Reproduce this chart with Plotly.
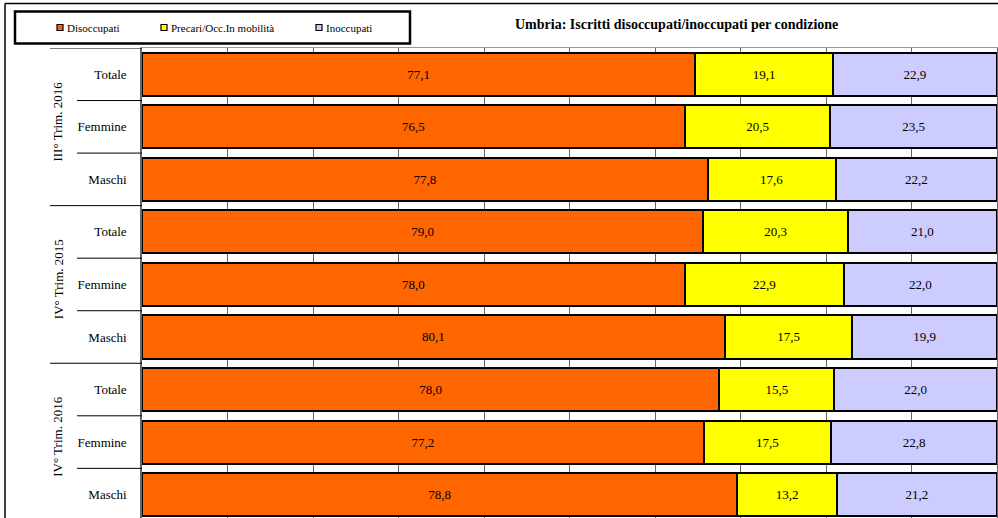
import plotly.graph_objects as go

groups = ["III° Trim. 2016", "IV° Trim. 2015", "IV° Trim. 2016"]
subs = ["Totale", "Femmine", "Maschi"]
series_names = ["Disoccupati", "Precari/Occ.In mobilità", "Inoccupati"]
colors = ["#FF6600", "#FFFF00", "#CCCCFF"]

disoccupati = [77.1, 76.5, 77.8, 79.0, 78.0, 80.1, 78.0, 77.2, 78.8]
precari = [19.1, 20.5, 17.6, 20.3, 22.9, 17.5, 15.5, 17.5, 13.2]
inoccupati = [22.9, 23.5, 22.2, 21.0, 22.0, 19.9, 22.0, 22.8, 21.2]

title = "Umbria: Iscritti disoccupati/inoccupati per condizione"

W, H = 998, 518
L, R, T = 142, 1, 47.5
PW = W - L - R
PH = H - T
SERIF = "Liberation Serif, Times New Roman, serif"

row_labels = [s for g in groups for s in subs]
ypos = list(range(len(row_labels)))

fig = go.Figure()
for name, vals, col in zip(series_names, [disoccupati, precari, inoccupati], colors):
    fig.add_trace(go.Bar(
        y=ypos, x=vals, orientation="h", name=name,
        marker=dict(color=col, line=dict(color="black", width=2)),
        text=[f"{v:.1f}".replace(".", ",") for v in vals],
        textposition="inside", insidetextanchor="middle", textangle=0,
        textfont=dict(family=SERIF, size=13, color="black"),
        showlegend=False,
    ))

fig.update_layout(
    width=W, height=H,
    margin=dict(l=L, r=R, t=T, b=0, pad=0),
    barmode="stack", barnorm="percent", bargap=0.18,
    paper_bgcolor="white", plot_bgcolor="white",
    font=dict(family=SERIF, color="black"),
)
fig.update_xaxes(range=[0, 100], dtick=10, showgrid=True, gridcolor="#666666", gridwidth=1,
                 showticklabels=False, zeroline=False, side="top",
                 showline=True, linecolor="#999999", linewidth=1)
fig.update_yaxes(range=[8.445, -0.5], tickvals=ypos, ticktext=row_labels,
                 tickfont=dict(family=SERIF, size=13, color="black"),
                 ticks="", ticklabelstandoff=11, showgrid=False, zeroline=False,
                 showline=True, mirror=True, linecolor="#666666", linewidth=1.5)

def px(xp):
    return (xp - L) / PW

def py(yp):
    return 1 - (yp - T) / PH

shapes = []
# category dividers in label area
for b in [-0.5, 2.5, 5.5, 8.5]:
    shapes.append(dict(type="line", xref="paper", yref="y", x0=px(50), x1=px(142), y0=b, y1=b,
                       line=dict(color="black", width=1)))
for b in [0.5, 1.5, 3.5, 4.5, 6.5, 7.5]:
    shapes.append(dict(type="line", xref="paper", yref="y", x0=px(77), x1=px(142), y0=b, y1=b,
                       line=dict(color="black", width=1)))
# outer frame
shapes.append(dict(type="line", xref="paper", yref="paper", x0=px(5), x1=px(998), y0=py(3), y1=py(3),
                   line=dict(color="black", width=1.5)))
shapes.append(dict(type="line", xref="paper", yref="paper", x0=px(5), x1=px(5), y0=py(3), y1=py(520),
                   line=dict(color="black", width=1.5)))
# legend box
shapes.append(dict(type="rect", xref="paper", yref="paper", x0=px(15), x1=px(410), y0=py(11), y1=py(43),
                   line=dict(color="black", width=2.5), fillcolor="white"))

annotations = []
leg_x = [57, 161, 316]
for name, col, lx in zip(series_names, colors, leg_x):
    shapes.append(dict(type="rect", xref="paper", yref="paper", x0=px(lx), x1=px(lx + 6),
                       y0=py(24), y1=py(30), line=dict(color="black", width=1.2), fillcolor=col))
    annotations.append(dict(xref="paper", yref="paper", x=px(lx + 8), y=py(27), text=name,
                            showarrow=False, xanchor="left", yanchor="middle",
                            font=dict(family=SERIF, size=11, color="black")))

for gi, g in enumerate(groups):
    annotations.append(dict(xref="paper", yref="y", x=px(58), y=gi * 3 + 0.9, text=g,
                            showarrow=False, textangle=-90, xanchor="center", yanchor="middle",
                            font=dict(family=SERIF, size=13, color="black")))

annotations.append(dict(xref="paper", yref="paper", x=px(676), y=py(24), text="<b>" + title + "</b>",
                        showarrow=False, xanchor="center", yanchor="middle",
                        font=dict(family=SERIF, size=14, color="black")))

fig.update_layout(shapes=shapes, annotations=annotations)
fig.write_html("out.html", config={"displayModeBar": False},
               post_script="document.body.style.margin='0';document.body.style.overflow='hidden';")
